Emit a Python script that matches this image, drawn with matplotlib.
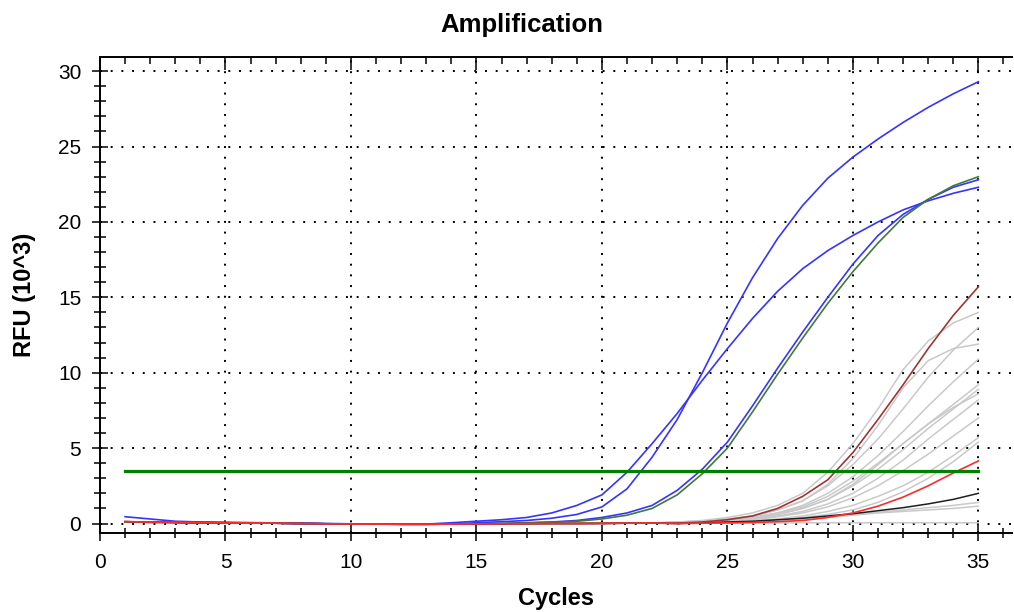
import matplotlib
matplotlib.use("Agg")
import matplotlib.pyplot as plt
from matplotlib.ticker import MultipleLocator

plt.rcParams['font.family'] = ['Liberation Sans', 'DejaVu Sans']

cycles = list(range(1, 36))

# near-zero baseline shared by late curves, cycles 1..22
flat = [0.12, 0.1, 0.08, 0.06, 0.05, 0.04, 0.02, 0.0, -0.02, -0.03, -0.04,
        -0.05, -0.05, -0.04, -0.03, -0.02, -0.01, 0.0, 0.0, 0.01, 0.02, 0.03]

# grey wells, cycles 23..35
grey_tails = [
    [0.1, 0.2, 0.4, 0.7, 1.2, 2.0, 3.4, 5.3, 7.6, 10.2, 12.1, 13.3, 14.0],
    [0.1, 0.15, 0.3, 0.5, 0.9, 1.5, 2.5, 3.9, 5.6, 7.6, 9.7, 11.5, 13.0],
    [0.1, 0.15, 0.3, 0.5, 0.9, 1.5, 2.6, 4.3, 6.5, 9.0, 10.8, 11.6, 11.9],
    [0.05, 0.1, 0.2, 0.4, 0.7, 1.2, 2.0, 3.1, 4.5, 6.1, 7.8, 9.4, 10.9],
    [0.05, 0.1, 0.2, 0.4, 0.7, 1.1, 1.8, 2.8, 4.0, 5.3, 6.6, 7.9, 9.2],
    [0.05, 0.1, 0.2, 0.35, 0.6, 1.0, 1.6, 2.5, 3.6, 4.9, 6.3, 7.6, 8.9],
    [0.05, 0.1, 0.2, 0.35, 0.6, 1.0, 1.6, 2.6, 3.9, 5.3, 6.6, 7.7, 8.6],
    [0.05, 0.1, 0.15, 0.3, 0.5, 0.8, 1.3, 2.0, 3.0, 4.2, 5.6, 6.9, 8.2],
    [0.05, 0.1, 0.15, 0.25, 0.45, 0.7, 1.1, 1.7, 2.5, 3.5, 4.6, 5.8, 7.0],
    [0.0, 0.05, 0.1, 0.2, 0.3, 0.5, 0.8, 1.2, 1.8, 2.5, 3.4, 4.5, 5.7],
    [0.0, 0.05, 0.1, 0.15, 0.25, 0.4, 0.6, 0.9, 1.4, 2.1, 3.0, 4.1, 5.4],
    [0.0, 0.05, 0.1, 0.15, 0.2, 0.3, 0.45, 0.6, 0.75, 0.9, 1.05, 1.2, 1.4],
    [0.0, 0.05, 0.1, 0.15, 0.2, 0.3, 0.4, 0.55, 0.7, 0.8, 0.9, 1.0, 1.15],
    [0.03, 0.03, 0.04, 0.04, 0.04, 0.05, 0.05, 0.05, 0.05, 0.05, 0.05, 0.05, 0.05],
]
black_tail = [0.0, 0.05, 0.1, 0.15, 0.25, 0.35, 0.5, 0.65, 0.85, 1.05, 1.3, 1.6, 2.0]
red_tail = [0.0, 0.02, 0.04, 0.07, 0.12, 0.2, 0.4, 0.7, 1.15, 1.75, 2.5, 3.35, 4.15]
brown_tail = [0.03, 0.1, 0.25, 0.5, 1.0, 1.8, 2.9, 4.7, 6.9, 9.2, 11.6, 13.8, 15.7]

blue_high = [0.1, 0.08, 0.07, 0.05, 0.04, 0.03, 0.02, 0.0, -0.02, -0.03, -0.04,
             -0.05, -0.05, -0.04, 0.05, 0.12, 0.2, 0.35, 0.6, 1.1, 2.3, 4.4,
             6.9, 10.0, 13.3, 16.3, 18.9, 21.1, 22.9, 24.3, 25.5, 26.6, 27.6, 28.5, 29.3]
blue_early = [0.45, 0.3, 0.15, 0.1, 0.08, 0.06, 0.04, 0.02, 0.0, -0.02, -0.03,
              -0.04, -0.04, 0.05, 0.15, 0.25, 0.4, 0.7, 1.2, 1.9, 3.4, 5.3,
              7.3, 9.5, 11.6, 13.6, 15.4, 16.9, 18.1, 19.1, 20.0, 20.8, 21.4, 21.9, 22.3]
blue_late = [0.1, 0.08, 0.07, 0.05, 0.04, 0.03, 0.02, 0.0, -0.02, -0.03, -0.04,
             -0.05, -0.05, -0.04, -0.02, 0.0, 0.05, 0.1, 0.2, 0.4, 0.7, 1.2,
             2.2, 3.6, 5.4, 7.8, 10.3, 12.7, 15.0, 17.2, 19.1, 20.5, 21.5, 22.3, 22.8]
green_curve = [0.1, 0.08, 0.07, 0.05, 0.04, 0.03, 0.02, 0.0, -0.02, -0.03, -0.04,
               -0.05, -0.05, -0.04, -0.02, 0.0, 0.04, 0.08, 0.15, 0.3, 0.55, 1.0,
               1.9, 3.3, 5.0, 7.4, 9.9, 12.3, 14.6, 16.7, 18.6, 20.3, 21.5, 22.4, 23.0]

threshold = 3.5
thr_x = [1, 35]

fig = plt.figure(figsize=(10.14, 6.12), dpi=100)
W, H = 1014, 612
ax = fig.add_axes([100 / W, 1 - 533 / H, (1012 - 100) / W, (533 - 57) / H])

for t in grey_tails:
    ax.plot(cycles, flat + t, color='#c9c9c9', lw=1.1)
ax.plot(cycles, flat + black_tail, color='#1e1e1e', lw=1.1)
ax.plot(cycles, blue_high, color='#3535ff', lw=1.2)
ax.plot(cycles, blue_early, color='#3535ff', lw=1.2)
ax.plot(cycles, blue_late, color='#3535ff', lw=1.2)
ax.plot(cycles, green_curve, color='#3f7a3f', lw=1.2)
ax.plot(cycles, flat + brown_tail, color='#9e3535', lw=1.2)
ax.plot(cycles, flat + red_tail, color='#ff2b2b', lw=1.2)
ax.plot(thr_x, [threshold, threshold], color='#008000', lw=2.3)

ax.set_xlim(0, 36.34)
ax.set_ylim(-0.63, 30.94)

ax.xaxis.set_major_locator(MultipleLocator(5))
ax.xaxis.set_minor_locator(MultipleLocator(1))
ax.yaxis.set_major_locator(MultipleLocator(5))
ax.yaxis.set_minor_locator(MultipleLocator(1))

ax.grid(True, which='major', color='black', lw=1.4, linestyle=(0, (1, 4.5)))
ax.set_axisbelow(True)

for s in ['right', 'top']:
    ax.spines[s].set_visible(False)
for s in ['left', 'bottom']:
    ax.spines[s].set_linewidth(1.4)

ax.tick_params(axis='both', which='major', direction='inout', width=1.1,
               labelsize=15, colors='black')
ax.tick_params(axis='x', which='major', length=11, pad=9)
ax.tick_params(axis='x', which='minor', direction='inout', length=6.5, width=1.1)
ax.tick_params(axis='y', which='major', length=12, pad=7.5)
ax.tick_params(axis='y', which='minor', direction='inout', length=8, width=1.1)

top = ax.secondary_xaxis('top')
top.xaxis.set_major_locator(MultipleLocator(5))
top.xaxis.set_minor_locator(MultipleLocator(1))
top.tick_params(which='major', direction='in', length=9.5, width=1.1, labeltop=False)
top.tick_params(which='minor', direction='in', length=5, width=1.1)
top.spines['top'].set_linewidth(1.4)
top.set_xticklabels([])

ax.set_xlabel('Cycles', fontsize=17, fontweight='bold', labelpad=11)
ax.set_ylabel('RFU (10^3)', fontsize=17, fontweight='bold', labelpad=16)
fig.text(522 / W, 1 - 25 / H, 'Amplification', fontsize=18.5, fontweight='bold',
         ha='center', va='center')

fig.savefig('out.png', dpi=100)
